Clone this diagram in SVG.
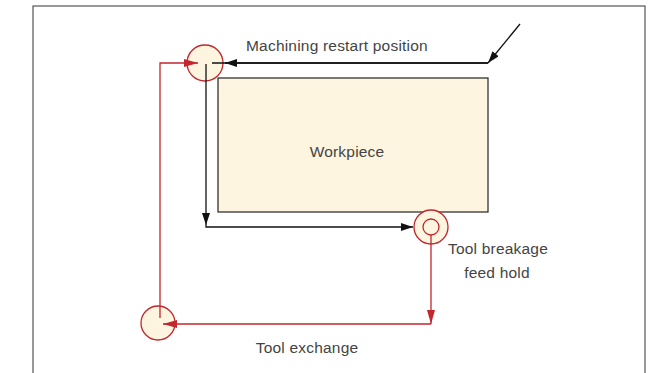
<svg xmlns="http://www.w3.org/2000/svg" width="659" height="373" viewBox="0 0 659 373">
<style>
.t{font-family:"Liberation Sans",Arial,sans-serif;font-size:15.5px;letter-spacing:0.2px;fill:#444}
.blk{stroke:#111;stroke-width:1.3;fill:none}
.red{stroke:#c1272d;stroke-width:1.3;fill:none}
.rc{stroke:#c1272d;stroke-width:1.3;fill:#fdf5e0}
</style>
<defs>
<marker id="ab" markerWidth="12" markerHeight="8" refX="12" refY="4" orient="auto" markerUnits="userSpaceOnUse"><path d="M0,0 L12,4 L0,8 Z" fill="#111"/></marker>
<marker id="ar" markerWidth="14" markerHeight="8" refX="14" refY="4" orient="auto" markerUnits="userSpaceOnUse"><path d="M0,0 L14,4 L0,8 Z" fill="#c1272d"/></marker>
</defs>
<rect x="33" y="6" width="612" height="380" fill="#fff" stroke="#333" stroke-width="1"/>
<g id="workpiece">
<rect x="218" y="78" width="270" height="134" fill="#fdf5e0" stroke="#222" stroke-width="1.2"/>
<text class="t" x="347" y="157" text-anchor="middle">Workpiece</text>
</g>
<g id="restart">
<circle class="rc" cx="205" cy="63" r="18"/>
<text class="t" x="246" y="51">Machining restart position</text>
</g>
<g id="breakage">
<circle class="rc" cx="431" cy="227" r="17"/>
<circle class="rc" cx="431" cy="227" r="8"/>
<text class="t" x="498" y="254" text-anchor="middle">Tool breakage</text>
<text class="t" x="497" y="278" text-anchor="middle">feed hold</text>
</g>
<g id="exchange">
<circle class="rc" cx="158" cy="323" r="17"/>
<text class="t" x="307" y="353" text-anchor="middle">Tool exchange</text>
</g>
<g id="connectors">
<line class="blk" x1="520" y1="24" x2="488" y2="63" marker-end="url(#ab)"/>
<line class="blk" x1="488" y1="63" x2="212" y2="63"/>
<line class="blk" x1="488" y1="63" x2="225" y2="63" marker-end="url(#ab)"/>
<polyline class="blk" points="206,64 206,225" marker-end="url(#ab)"/>
<polyline class="blk" points="206,225 206,227 413,227" marker-end="url(#ab)"/>
<polyline class="red" points="431,235 431,324" marker-end="url(#ar)"/>
<polyline class="red" points="431,324 163,324" marker-end="url(#ar)"/>
<polyline class="red" points="160,318 160,63 198,63" marker-end="url(#ar)"/>
</g>
</svg>
